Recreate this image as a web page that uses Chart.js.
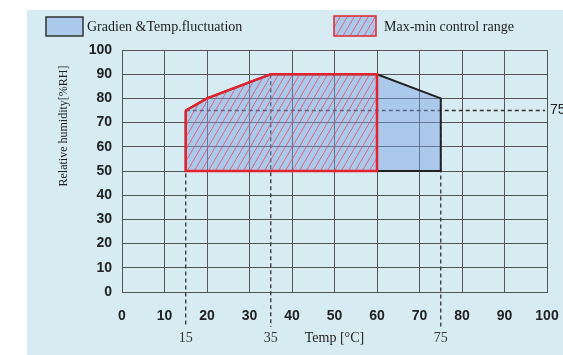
<!DOCTYPE html>
<html>
<head>
<meta charset="utf-8">
<script src="https://cdn.jsdelivr.net/npm/chart.js@4.4.1/dist/chart.umd.min.js"></script>
<style>
  html, body { margin: 0; padding: 0; background: #fff; }
  #wrap { width: 563px; height: 355px; }
</style>
</head>
<body>
<div id="wrap"><canvas id="rhChart" width="563" height="355"></canvas></div>
<script>
// chart data
var xTicks = [0, 10, 20, 30, 40, 50, 60, 70, 80, 90, 100];
var yTicks = [0, 10, 20, 30, 40, 50, 60, 70, 80, 90, 100];

// outer envelope (gradient & temp fluctuation)
var fluctTemp = [15, 20, 35, 60, 75, 75, 15, 15];
var fluctRH = [75, 80, 90, 90, 80, 50, 50, 75];

// max-min control range
var ctrlTemp = [15, 20, 35, 60, 60, 15, 15];
var ctrlRH = [75, 80, 90, 90, 50, 50, 75];

// dashed guide lines: temperature marks and where they start (RH)
var markTemp = [15, 35, 75];
var markFromRH = [75, 90, 80];
var refRH = 75;
var refFromTemp = 15;

var legendLabels = ['Gradien &Temp.fluctuation', 'Max-min control range'];
var xTitle = 'Temp [\u00B0C]';
var yTitle = 'Relative humidity[%RH]';

var SERIF = '"Liberation Serif", "Times New Roman", serif';
var SANS = '"Liberation Sans", Arial, sans-serif';
var BG = '#d6ebf2';
var FILL = 'rgba(120, 162, 226, 0.45)';
var RED = '#e5232d';

function toPoints(xs, ys) {
    return xs.map(function (x, i) { return { x: x, y: ys[i] }; });
}

function makeHatch() {
    var c = document.createElement('canvas');
    c.width = 7; c.height = 12;
    var g = c.getContext('2d');
    g.strokeStyle = 'rgba(232, 70, 90, 0.75)';
    g.lineWidth = 1;
    g.beginPath();
    g.moveTo(-7, 12); g.lineTo(0, 0);
    g.moveTo(0, 12); g.lineTo(7, 0);
    g.moveTo(7, 12); g.lineTo(14, 0);
    g.stroke();
    return g.createPattern(c, 'repeat');
}

document.addEventListener('DOMContentLoaded', function () {
    var canvas = document.getElementById('rhChart');
    var ctx = canvas.getContext('2d');
    var hatch = makeHatch();

    var decor = {
        id: 'decor',
        beforeDraw: function (chart) {
            var c = chart.ctx;
            c.save();
            c.fillStyle = '#fff';
            c.fillRect(0, 0, chart.width, chart.height);
            c.fillStyle = BG;
            c.fillRect(27, 10, chart.width - 27, chart.height - 10);
            c.restore();
        },
        beforeDatasetsDraw: function (chart) {
            var c = chart.ctx, xs = chart.scales.x, ys = chart.scales.y;
            var bottom = chart.chartArea.bottom;
            c.save();
            c.strokeStyle = '#333';
            c.lineWidth = 1.3;
            c.setLineDash([4, 3]);
            markTemp.forEach(function (t, i) {
                var px = xs.getPixelForValue(t);
                c.beginPath();
                c.moveTo(px, ys.getPixelForValue(markFromRH[i]));
                c.lineTo(px, bottom + 35);
                c.stroke();
            });
            var py = ys.getPixelForValue(refRH);
            c.beginPath();
            c.moveTo(xs.getPixelForValue(refFromTemp), py);
            c.lineTo(xs.getPixelForValue(100) - 2, py);
            c.stroke();
            c.restore();
        },
        afterDraw: function (chart) {
            var c = chart.ctx, xs = chart.scales.x, ys = chart.scales.y;
            var area = chart.chartArea;
            c.save();
            // temperature marks under the axis
            c.fillStyle = '#333';
            c.font = '14px ' + SERIF;
            c.textAlign = 'center';
            c.textBaseline = 'middle';
            markTemp.forEach(function (t) {
                c.fillText(String(t), xs.getPixelForValue(t), area.bottom + 46);
            });
            c.fillStyle = '#222';
            c.fillText(xTitle, (area.left + area.right) / 2, area.bottom + 46);
            // 75 at the end of the reference line
            c.font = '14px ' + SANS;
            c.textAlign = 'left';
            c.fillText(String(refRH), area.right + 3, ys.getPixelForValue(refRH));
            // y title
            c.save();
            c.translate(64, 126);
            c.rotate(-Math.PI / 2);
            c.textAlign = 'center';
            c.font = '12px ' + SERIF;
            c.fillText(yTitle, 0, 0);
            c.restore();
            // legend
            c.lineWidth = 1.5;
            c.fillStyle = FILL;
            c.fillRect(46, 17, 37, 19);
            c.strokeStyle = '#333';
            c.strokeRect(46, 17, 37, 19);
            c.fillStyle = FILL;
            c.fillRect(334, 16, 42, 20);
            c.fillStyle = hatch;
            c.fillRect(334, 16, 42, 20);
            c.strokeStyle = RED;
            c.strokeRect(334, 16, 42, 20);
            c.fillStyle = '#222';
            c.font = '14px ' + SERIF;
            c.textAlign = 'left';
            c.fillText(legendLabels[0], 87, 27);
            c.fillText(legendLabels[1], 384, 27);
            c.restore();
        }
    };

    new Chart(ctx, {
        type: 'line',
        data: {
            datasets: [{
                label: legendLabels[1],
                data: toPoints(ctrlTemp, ctrlRH),
                fill: 'shape',
                backgroundColor: hatch,
                borderColor: RED,
                borderWidth: 2.5,
                pointRadius: 0,
                tension: 0,
                order: 0
            }, {
                label: legendLabels[0],
                data: toPoints(fluctTemp, fluctRH),
                fill: 'shape',
                backgroundColor: FILL,
                borderColor: '#222',
                borderWidth: 2,
                pointRadius: 0,
                tension: 0,
                order: 1
            }]
        },
        options: {
            responsive: false,
            animation: false,
            layout: { padding: { left: 0, top: 50, right: 16, bottom: 0 } },
            plugins: {
                legend: { display: false },
                tooltip: { enabled: false }
            },
            scales: {
                x: {
                    type: 'linear',
                    min: 0,
                    max: 100,
                    afterBuildTicks: function (scale) {
                        scale.ticks = xTicks.map(function (v) { return { value: v }; });
                    },
                    afterFit: function (scale) {
                        scale.height = 63;
                        scale.paddingLeft = 0;
                        scale.paddingRight = 0;
                    },
                    grid: { color: '#555', lineWidth: 1, drawTicks: false },
                    border: { color: '#555', width: 1 },
                    ticks: {
                        padding: 16,
                        color: '#222',
                        font: { family: SANS, size: 14, weight: 'bold' }
                    }
                },
                y: {
                    type: 'linear',
                    min: 0,
                    max: 100,
                    afterBuildTicks: function (scale) {
                        scale.ticks = yTicks.map(function (v) { return { value: v }; });
                    },
                    afterFit: function (scale) {
                        scale.width = 122;
                        scale.paddingTop = 0;
                        scale.paddingBottom = 0;
                    },
                    grid: { color: '#555', lineWidth: 1, drawTicks: false },
                    border: { color: '#555', width: 1 },
                    ticks: {
                        padding: 10,
                        color: '#222',
                        font: { family: SANS, size: 14, weight: 'bold' }
                    }
                }
            }
        },
        plugins: [decor]
    });
});
</script>
</body>
</html>
